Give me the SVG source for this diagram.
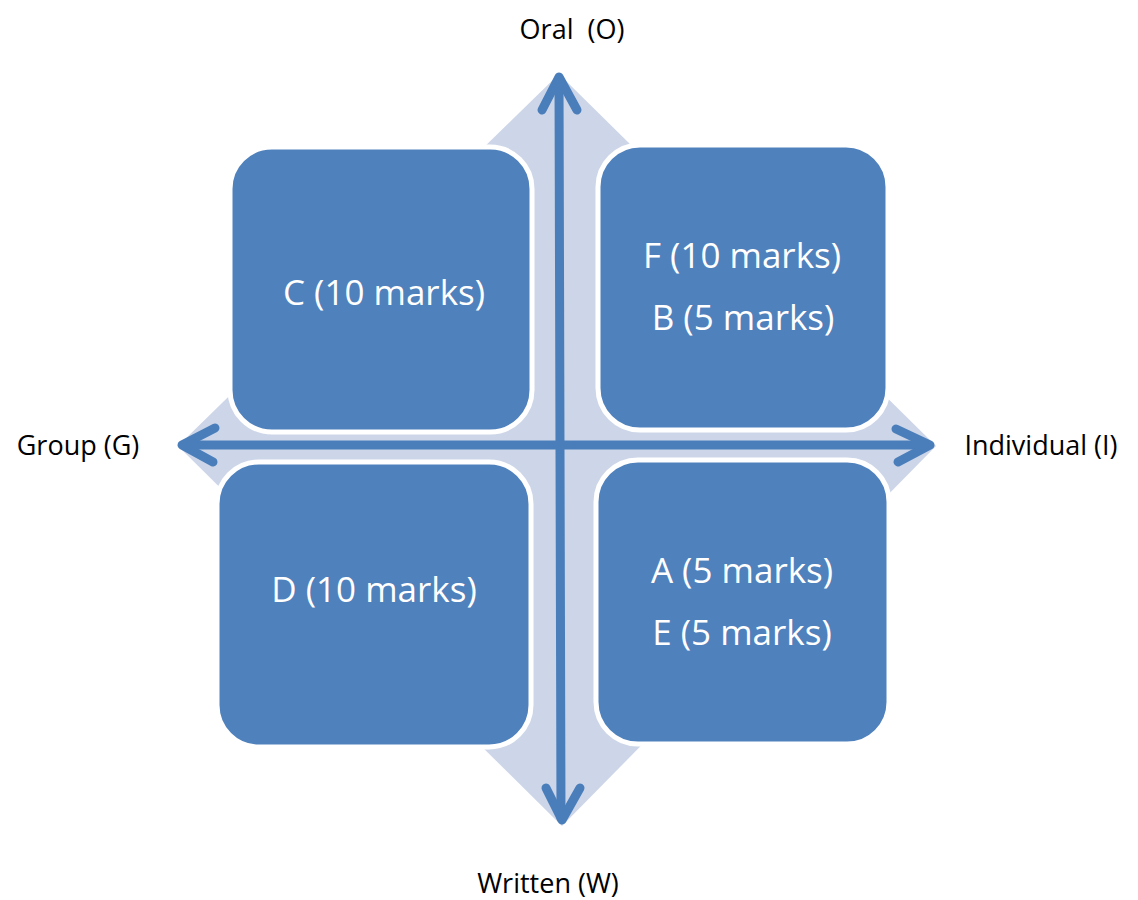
<svg xmlns="http://www.w3.org/2000/svg" width="1138" height="900" viewBox="0 0 1138 900">
  <style>
    .box { fill: #4f81bd; stroke: #ffffff; stroke-width: 5; }
    .btxt { font-family: "Open Sans", "Liberation Sans", sans-serif; font-size: 35px; fill: #ffffff; text-anchor: middle; }
    .atxt { font-family: "Open Sans", "Liberation Sans", sans-serif; font-size: 27px; fill: #000000; text-anchor: middle; white-space: pre; }
    .axis { fill: none; stroke: #4a7ebb; stroke-width: 9; stroke-linecap: round; stroke-linejoin: round; }
  </style>
  <rect width="1138" height="900" fill="#ffffff"/>
  <g id="background">
    <polygon points="559,74 936,446 562,826 178,446" fill="#cdd6e8"/>
  </g>
  <g id="connectors">
    <line class="axis" x1="559" y1="80" x2="561" y2="818"/>
    <line class="axis" x1="184" y1="445" x2="928" y2="445"/>
    <polyline class="axis" points="542,110 559,77 577,110"/>
    <polyline class="axis" points="546,788 562,820 580,788"/>
    <polyline class="axis" points="215,428 182,445 213,462"/>
    <polyline class="axis" points="896,429 930,445 898,462"/>
  </g>
  <g id="node-C">
    <rect class="box" x="230" y="147" width="302" height="285" rx="42" ry="42"/>
    <text class="btxt" x="384" y="305">C (10 marks)</text>
  </g>
  <g id="node-FB">
    <rect class="box" x="598" y="145" width="290" height="285" rx="42" ry="42"/>
    <text class="btxt" x="742" y="268">F (10 marks)</text>
    <text class="btxt" x="743" y="330">B (5 marks)</text>
  </g>
  <g id="node-D">
    <rect class="box" x="217" y="462" width="314" height="285" rx="42" ry="42"/>
    <text class="btxt" x="374" y="602">D (10 marks)</text>
  </g>
  <g id="node-AE">
    <rect class="box" x="596" y="460" width="293" height="284" rx="42" ry="42"/>
    <text class="btxt" x="742" y="583">A (5 marks)</text>
    <text class="btxt" x="742" y="645">E (5 marks)</text>
  </g>
  <g id="labels">
    <text class="atxt" x="572" y="39">Oral  (O)</text>
    <text class="atxt" x="78" y="455">Group (G)</text>
    <text class="atxt" x="1041" y="455">Individual (I)</text>
    <text class="atxt" x="548" y="893">Written (W)</text>
  </g>
</svg>
